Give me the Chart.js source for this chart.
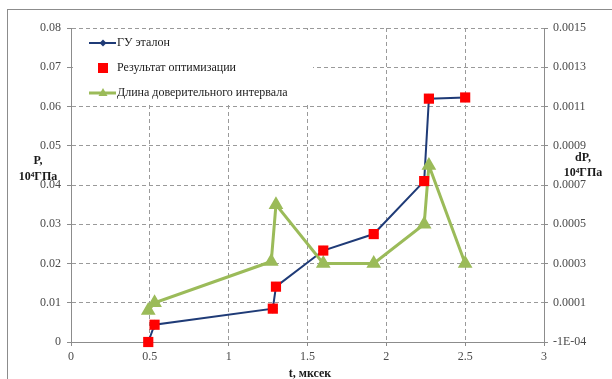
<!DOCTYPE html>
<html>
<head>
<meta charset="utf-8">
<script src="https://cdn.jsdelivr.net/npm/chart.js@4/dist/chart.umd.min.js"></script>
<style>
  html, body { margin: 0; padding: 0; background: #ffffff; }
  #wrap { width: 612px; height: 379px; position: relative; }
</style>
</head>
<body>
<div id="wrap"><canvas id="c" width="612" height="379"></canvas></div>
<script>
// ---- data ----
const tEtalon   = [0.49, 0.53, 1.28, 1.30, 1.60, 1.92, 2.24, 2.27, 2.50];
const pEtalon   = [0.0000, 0.0044, 0.0085, 0.0141, 0.0233, 0.0275, 0.0410, 0.0620, 0.0623];
const tOptim    = [0.49, 0.53, 1.28, 1.30, 1.60, 1.92, 2.24, 2.27, 2.50];
const pOptim    = [0.0000, 0.0044, 0.0085, 0.0141, 0.0233, 0.0275, 0.0410, 0.0620, 0.0623];
const tInterval = [0.49, 0.53, 1.27, 1.30, 1.60, 1.92, 2.24, 2.27, 2.50];
const dpInterval= [0.00006, 0.00010, 0.00031, 0.00060, 0.00030, 0.00030, 0.00050, 0.00080, 0.00030];

const seriesNames = ['ГУ эталон', 'Результат оптимизации', 'Длина доверительного интервала'];

const xTicks = [0, 0.5, 1, 1.5, 2, 2.5, 3];
const xTickLabels = ['0', '0.5', '1', '1.5', '2', '2.5', '3'];
const leftTicks = [0, 0.01, 0.02, 0.03, 0.04, 0.05, 0.06, 0.07, 0.08];
const leftTickLabels = ['0', '0.01', '0.02', '0.03', '0.04', '0.05', '0.06', '0.07', '0.08'];
const rightTicks = [-0.0001, 0.0001, 0.0003, 0.0005, 0.0007, 0.0009, 0.0011, 0.0013, 0.0015];
const rightTickLabels = ['-1E-04', '0.0001', '0.0003', '0.0005', '0.0007', '0.0009', '0.0011', '0.0013', '0.0015'];

const xTitle = 't, мксек';
const leftTitle = ['P,', '10\u2074ГПа'];
const rightTitle = ['dP,', '10\u2074ГПа'];

// ---- styles ----
const BLUE = '#1F3B77';
const RED = '#FF0000';
const GREEN = '#9BBB59';
const AXIS = '#8C8C8C';
const GRID = '#9A9A9A';
const TICKTXT = '#4A4A4A';
const SERIF = '"Liberation Serif", "Times New Roman", serif';

const toXY = (xs, ys) => xs.map((x, i) => ({ x: x, y: ys[i] }));

const decor = {
  id: 'decor',
  beforeDatasetsDraw(chart) {
    const ctx = chart.ctx;
    ctx.save();
    // legend box (covers grid)
    ctx.fillStyle = '#ffffff';
    ctx.fillRect(73, 30, 240, 74);
    ctx.font = '12px ' + SERIF;
    ctx.textBaseline = 'middle';
    ctx.textAlign = 'left';
    ctx.fillStyle = '#1a1a1a';
    // entry 1: blue line + diamond
    ctx.strokeStyle = BLUE; ctx.lineWidth = 2;
    ctx.beginPath(); ctx.moveTo(89, 43); ctx.lineTo(116, 43); ctx.stroke();
    ctx.fillStyle = BLUE;
    ctx.beginPath(); ctx.moveTo(103, 39.5); ctx.lineTo(106.5, 43); ctx.lineTo(103, 46.5); ctx.lineTo(99.5, 43); ctx.closePath(); ctx.fill();
    ctx.fillStyle = '#1a1a1a';
    ctx.fillText(seriesNames[0], 117, 43);
    // entry 2: red square
    ctx.fillStyle = RED;
    ctx.fillRect(98, 63, 10, 10);
    ctx.fillStyle = '#1a1a1a';
    ctx.fillText(seriesNames[1], 117, 68);
    // entry 3: green line + triangle
    ctx.strokeStyle = GREEN; ctx.lineWidth = 3;
    ctx.beginPath(); ctx.moveTo(89, 93); ctx.lineTo(116, 93); ctx.stroke();
    ctx.fillStyle = GREEN;
    ctx.beginPath(); ctx.moveTo(103, 88); ctx.lineTo(107.5, 96); ctx.lineTo(98.5, 96); ctx.closePath(); ctx.fill();
    ctx.fillStyle = '#1a1a1a';
    ctx.fillText(seriesNames[2], 117, 93);
    ctx.restore();
  },
  afterDraw(chart) {
    const ctx = chart.ctx;
    ctx.save();
    // outer frame
    ctx.strokeStyle = AXIS; ctx.lineWidth = 1;
    ctx.strokeRect(7.5, 9.5, 620, 380);
    // titles
    ctx.fillStyle = '#1a1a1a';
    ctx.font = 'bold 12px ' + SERIF;
    ctx.textAlign = 'center';
    ctx.textBaseline = 'middle';
    ctx.fillText(leftTitle[0], 38, 161);
    ctx.fillText(leftTitle[1], 38, 177);
    ctx.fillText(rightTitle[0], 583, 158);
    ctx.fillText(rightTitle[1], 583, 173);
    ctx.fillText(xTitle, 310, 374);
    ctx.restore();
  }
};

const bg = {
  id: 'bg',
  beforeDraw(chart) {
    const ctx = chart.ctx;
    ctx.save();
    ctx.fillStyle = '#ffffff';
    ctx.fillRect(0, 0, chart.width, chart.height);
    ctx.restore();
  }
};

new Chart(document.getElementById('c'), {
  type: 'line',
  data: {
    datasets: [
      {
        label: seriesNames[0],
        data: toXY(tEtalon, pEtalon),
        yAxisID: 'y',
        borderColor: BLUE,
        backgroundColor: BLUE,
        borderWidth: 2,
        pointStyle: 'rectRot',
        pointRadius: 3.5,
        tension: 0,
        clip: false,
        order: 3
      },
      {
        label: seriesNames[1],
        data: toXY(tOptim, pOptim),
        yAxisID: 'y',
        showLine: false,
        borderColor: RED,
        backgroundColor: RED,
        borderWidth: 0,
        pointStyle: 'rect',
        pointRadius: 7.2,
        clip: false,
        order: 1
      },
      {
        label: seriesNames[2],
        data: toXY(tInterval, dpInterval),
        yAxisID: 'y2',
        borderColor: GREEN,
        backgroundColor: GREEN,
        borderWidth: 3,
        pointStyle: 'triangle',
        pointRadius: 5.5,
        tension: 0,
        clip: false,
        order: 2
      }
    ]
  },
  options: {
    responsive: false,
    animation: false,
    devicePixelRatio: 1,
    layout: { padding: { top: 28, left: 0, right: 0, bottom: 0 } },
    plugins: { legend: { display: false }, tooltip: { enabled: false } },
    scales: {
      x: {
        type: 'linear',
        min: 0, max: 3,
        afterBuildTicks: s => { s.ticks = xTicks.map(v => ({ value: v })); },
        afterFit: s => { s.height = 37; },
        ticks: {
          callback: (v, i) => xTickLabels[i],
          color: TICKTXT,
          font: { family: SERIF, size: 12 },
          padding: 4,
          maxRotation: 0,
          autoSkip: false
        },
        grid: { color: GRID, lineWidth: 1, tickLength: 4, tickColor: AXIS, tickBorderDash: [] },
        border: { display: true, color: AXIS, width: 1, dash: [4, 3] }
      },
      y: {
        type: 'linear',
        position: 'left',
        min: 0, max: 0.08,
        afterBuildTicks: s => { s.ticks = leftTicks.map(v => ({ value: v })); },
        afterFit: s => { s.width = 71; },
        ticks: {
          callback: (v, i) => leftTickLabels[i],
          color: TICKTXT,
          font: { family: SERIF, size: 12 },
          padding: 6,
          autoSkip: false
        },
        grid: { color: GRID, lineWidth: 1, tickLength: 4, tickColor: AXIS, tickBorderDash: [] },
        border: { display: true, color: AXIS, width: 1, dash: [4, 3] }
      },
      y2: {
        type: 'linear',
        position: 'right',
        min: -0.0001, max: 0.0015,
        afterBuildTicks: s => { s.ticks = rightTicks.map(v => ({ value: v })); },
        afterFit: s => { s.width = 68; },
        ticks: {
          callback: (v, i) => rightTickLabels[i],
          color: TICKTXT,
          font: { family: SERIF, size: 12 },
          padding: 5,
          autoSkip: false
        },
        grid: { drawOnChartArea: false, tickLength: 4, tickColor: AXIS, tickBorderDash: [] },
        border: { display: true, color: AXIS, width: 1 }
      }
    }
  },
  plugins: [bg, decor]
});
</script>
</body>
</html>
